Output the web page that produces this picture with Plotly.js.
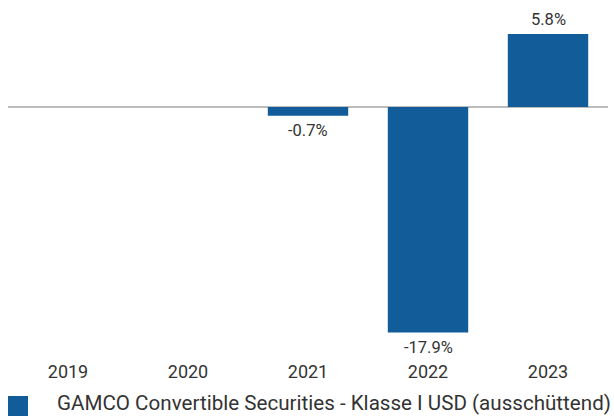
<!DOCTYPE html>
<html>
<head>
<meta charset="utf-8">
<script src="https://cdn.plot.ly/plotly-3.0.1.min.js"></script>
<style>html,body{margin:0;padding:0;background:#fff;}#chart{width:614px;height:416px;}</style>
</head>
<body>
<div id="chart"></div>
<script>
const years = ['2019', '2020', '2021', '2022', '2023'];
const returns = [null, null, -0.7, -17.9, 5.8];
const seriesName = 'GAMCO Convertible Securities - Klasse I USD (ausschüttend)';
const barColor = '#115c99';
const textColor = '#333333';
const fontFamily = 'Roboto, Liberation Sans, sans-serif';

const trace = {
  type: 'bar',
  x: years,
  y: returns,
  name: seriesName,
  marker: {color: barColor},
  width: 0.67,
  hoverinfo: 'skip',
  showlegend: false
};

const valueLabels = [];
years.forEach((yr, i) => {
  const v = returns[i];
  if (v === null) return;
  valueLabels.push({
    x: i, y: v, xref: 'x', yref: 'y',
    text: v.toFixed(1) + '%',
    showarrow: false,
    xanchor: 'center', yanchor: 'middle',
    yshift: v >= 0 ? 14.5 : -15,
    borderpad: 0,
    font: {family: fontFamily, size: 16.5, color: textColor}
  });
});

const layout = {
  width: 614,
  height: 416,
  margin: {l: 8, r: 6, t: 10, b: 61},
  paper_bgcolor: '#fff',
  plot_bgcolor: '#fff',
  font: {family: fontFamily, color: textColor},
  bargap: 0.33,
  xaxis: {
    type: 'category',
    categoryorder: 'array',
    categoryarray: years,
    range: [-0.5, years.length - 0.5],
    showgrid: false,
    showline: false,
    zeroline: false,
    ticks: '',
    ticklabelstandoff: 4,
    tickfont: {size: 18, color: textColor}
  },
  yaxis: {
    range: [-19.68, 7.7],
    showgrid: false,
    showticklabels: false,
    ticks: '',
    zeroline: true,
    zerolinecolor: '#bdbdbd',
    zerolinewidth: 2,
    fixedrange: true
  },
  shapes: [{
    type: 'rect', xref: 'paper', yref: 'paper',
    x0: 0, x1: 20/600, y0: -61/345, y1: -(396-355)/345,
    fillcolor: barColor, line: {width: 0}
  }],
  annotations: valueLabels.concat([{
    xref: 'paper', yref: 'paper',
    x: (56-8)/600, y: -60.5/345,
    xanchor: 'left', yanchor: 'bottom',
    text: seriesName, showarrow: false,
    borderpad: 0,
    font: {size: 20.6, color: textColor}
  }])
};

Plotly.newPlot('chart', [trace], layout, {displayModeBar: false, staticPlot: true});
</script>
</body>
</html>
